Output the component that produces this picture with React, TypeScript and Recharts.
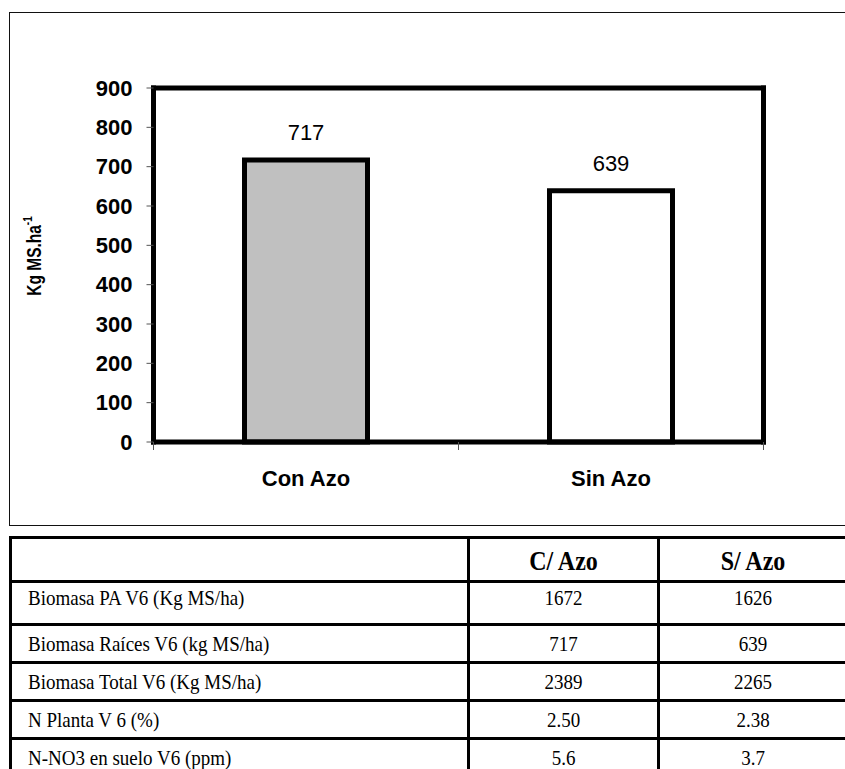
import React from "react";
import { BarChart, Bar, XAxis, YAxis, Cell, LabelList } from "recharts";

// chart data
const categories = ["Con Azo", "Sin Azo"];
const biomasaRaices = [717, 639];
const barFills = ["#c0c0c0", "#ffffff"];
const yTicks = [0, 100, 200, 300, 400, 500, 600, 700, 800, 900];

// table below the chart
const tableHeaders = ["", "C/ Azo", "S/ Azo"];
const rowLabels = [
  "Biomasa PA V6 (Kg MS/ha)",
  "Biomasa Raíces V6 (kg MS/ha)",
  "Biomasa Total V6 (Kg MS/ha)",
  "N Planta V 6 (%)",
  "N-NO3 en suelo V6 (ppm)",
];
const conAzo = ["1672", "717", "2389", "2.50", "5.6"];
const sinAzo = ["1626", "639", "2265", "2.38", "3.7"];
const rowHeights = [43, 38, 38, 38, 38];

const data = categories.map((name, i) => ({ name, value: biomasaRaices[i] }));

const axisFont = "'Liberation Sans', Arial, sans-serif";
const tableFont = "'Liberation Serif', 'Times New Roman', serif";

const CHART_W = 845;
const CHART_H = 530;
const MARGIN = { top: 87, right: 80.5, left: 93.5, bottom: 38 };
const Y_AXIS_W = 60;
const TICK_SIZE = 8;
const TICK_MARGIN = 20;
const plotW = CHART_W - MARGIN.left - Y_AXIS_W - MARGIN.right - 1;
const bandW = plotW / categories.length;

const frameLine = { stroke: "#000", strokeWidth: 5, strokeLinecap: "square" as const };

// category label plus the Excel-style tick marks between categories
function XTick(props: any) {
  const { x, y, payload, index, visibleTicksCount } = props;
  const axisY = y - TICK_SIZE - TICK_MARGIN;
  const edges = [x - bandW / 2];
  if (index === visibleTicksCount - 1) edges.push(x + bandW / 2);
  return (
    <g>
      {edges.map((ex) => (
        <line key={ex} x1={ex} x2={ex} y1={axisY} y2={axisY + TICK_SIZE} stroke="#555" strokeWidth={1} />
      ))}
      <text
        x={x}
        y={y}
        dy="0.71em"
        textAnchor="middle"
        fontFamily={axisFont}
        fontWeight="bold"
        fontSize={22}
        fill="#000"
      >
        {payload.value}
      </text>
    </g>
  );
}

function YTitle() {
  return (
    <text
      x={0}
      y={0}
      transform="translate(41 256) scale(1.3 1) rotate(-90)"
      textAnchor="middle"
      fontFamily={axisFont}
      fontWeight="bold"
      fontSize={15.5}
      fill="#000"
    >
      Kg MS.ha
      <tspan fontSize={10} dy={-7}>-1</tspan>
    </text>
  );
}

const cellBorder = "3px solid #000";
const stretch: React.CSSProperties = { display: "inline-block", transform: "scale(1, 1.15)" };

export default function App() {
  return (
    <div
      style={{
        position: "absolute",
        left: 0,
        top: 0,
        width: 845,
        height: 769,
        overflow: "hidden",
        background: "#fff",
      }}
    >
      {/* outer frame of the chart */}
      <div
        style={{
          position: "absolute",
          left: 9,
          top: 11.5,
          width: 900,
          height: 512,
          border: "1.5px solid #111",
        }}
      />
      <div style={{ position: "absolute", left: 0, top: 0 }}>
        <BarChart width={CHART_W} height={CHART_H} data={data} margin={MARGIN}>
          <XAxis
            xAxisId="top"
            dataKey="name"
            orientation="top"
            height={1}
            tick={false}
            tickLine={false}
            axisLine={frameLine}
          />
          <XAxis
            dataKey="name"
            axisLine={frameLine}
            tickLine={false}
            tickSize={TICK_SIZE}
            tickMargin={TICK_MARGIN}
            height={50}
            tick={<XTick />}
          />
          <YAxis
            domain={[0, 900]}
            ticks={yTicks}
            width={Y_AXIS_W}
            axisLine={frameLine}
            tickLine={{ stroke: "#555", strokeWidth: 1 }}
            tickSize={7}
            tickMargin={14}
            tick={{ fill: "#000", fontSize: 22, fontWeight: "bold", fontFamily: axisFont }}
            label={{ content: () => <YTitle /> }}
          />
          <YAxis
            yAxisId="right"
            orientation="right"
            domain={[0, 900]}
            width={1}
            tick={false}
            tickLine={false}
            axisLine={frameLine}
          />
          <Bar
            dataKey="value"
            barSize={123}
            stroke="#000"
            strokeWidth={5}
            isAnimationActive={false}
          >
            {data.map((d, i) => (
              <Cell key={d.name} fill={barFills[i]} />
            ))}
            <LabelList
              dataKey="value"
              position="top"
              offset={20}
              fill="#000"
              fontSize={22}
              fontFamily={axisFont}
            />
          </Bar>
        </BarChart>
      </div>
      <table
        style={{
          position: "absolute",
          left: 9,
          top: 536,
          width: 840,
          tableLayout: "fixed",
          borderCollapse: "collapse",
          fontFamily: tableFont,
          fontSize: 19,
          color: "#000",
        }}
      >
        <colgroup>
          <col style={{ width: 458 }} />
          <col style={{ width: 190 }} />
          <col />
        </colgroup>
        <tbody>
          <tr style={{ height: 44 }}>
            {tableHeaders.map((h, i) => (
              <td
                key={i}
                style={{
                  border: cellBorder,
                  textAlign: "center",
                  fontWeight: "bold",
                  fontSize: 24,
                  padding: 0,
                  verticalAlign: "bottom",
                  paddingBottom: 5,
                }}
              >
                <span style={stretch}>{h}</span>
              </td>
            ))}
          </tr>
          {rowLabels.map((label, r) => {
            const cell: React.CSSProperties = {
              border: cellBorder,
              padding: 0,
              paddingTop: r === 0 ? 4 : 0,
              verticalAlign: r === 0 ? "top" : "middle",
            };
            return (
              <tr key={label} style={{ height: rowHeights[r] }}>
                <td style={{ ...cell, paddingLeft: 16 }}>
                  <span style={stretch}>{label}</span>
                </td>
                <td style={{ ...cell, textAlign: "center" }}>
                  <span style={stretch}>{conAzo[r]}</span>
                </td>
                <td style={{ ...cell, textAlign: "center" }}>
                  <span style={stretch}>{sinAzo[r]}</span>
                </td>
              </tr>
            );
          })}
        </tbody>
      </table>
    </div>
  );
}
